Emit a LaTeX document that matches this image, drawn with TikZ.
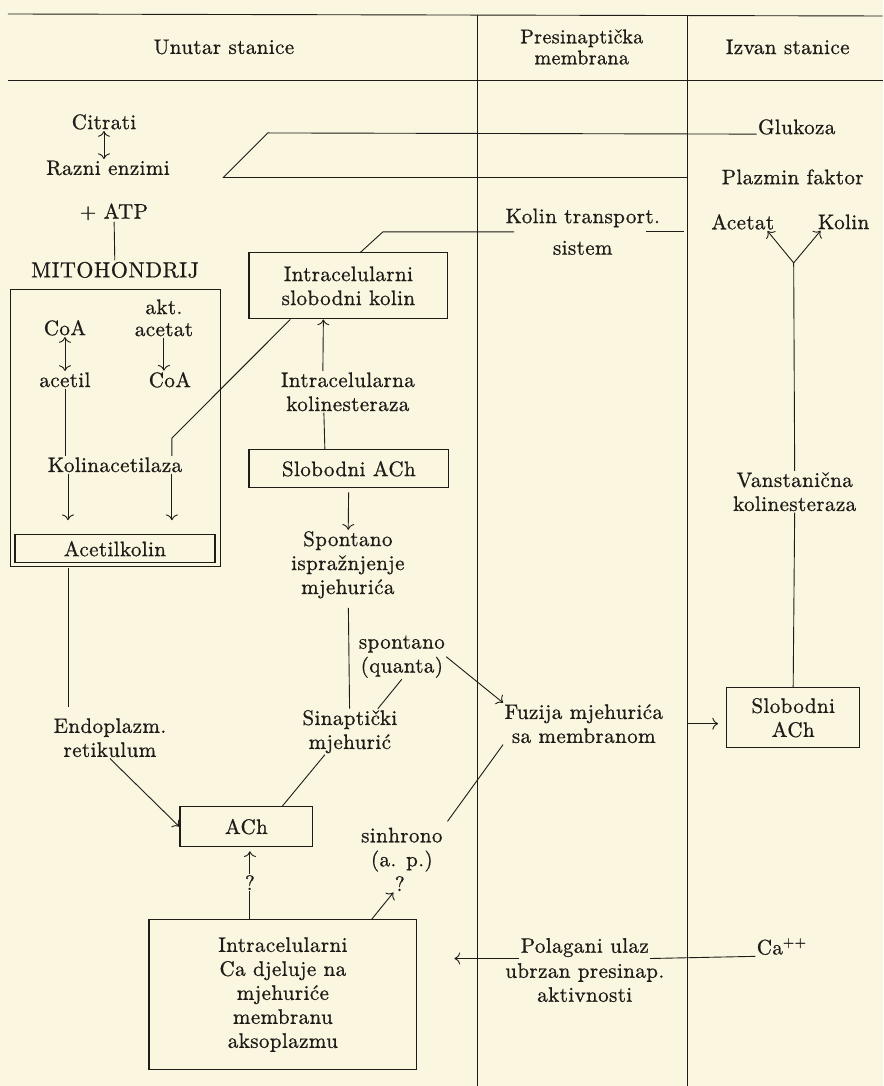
\documentclass[tikz,border=0pt]{standalone}
\usepackage{fontspec}
\setmainfont{lmroman10-regular.otf}[FakeBold=0.8,LetterSpace=2]
\usepackage{tikz}
\usetikzlibrary{positioning,arrows,arrows.meta}
\definecolor{papir}{RGB}{250,246,224}
\definecolor{tinta}{RGB}{30,27,24}

\begin{document}
\begin{tikzpicture}[x=1pt,y=-1pt,>={To[scale=1.6]},line width=0.9pt,color=tinta,
	every node/.style={align=center,inner sep=1pt,font=\fontsize{21}{24}\selectfont},
	okvir/.style={draw,line width=1.2pt,inner sep=0pt},
	veliki/.style={font=\fontsize{22}{26}\selectfont}]
	\fill[papir] (0,0) rectangle (883,1086);
	\draw (8,14) -- (883,16);
	\draw (8,80) -- (883,80);
	\draw (478,15) -- (478,1086);
	\draw (688,15) -- (688,1086);

	\node (hdr1) at (224,47) {Unutar stanice};
	\node[font=\fontsize{20}{21}\selectfont] (hdr2) at (582,47) {Presinaptička\\membrana};
	\node (hdr3) at (788,47) {Izvan stanice};

	\node (cit) at (104,122) {Citrati};
	\node (enz) at (108,168) {Razni enzimi};
	\node (atp) at (114,212) {+ ATP};
	\node[veliki] (mito) at (115,270) {MITOHONDRIJ};
	\draw (10,290) rectangle (221,567);
	\node (coa1) at (65,328) {CoA};
	\node[font=\fontsize{21}{22}\selectfont] (akt) at (164,318) {akt.\\acetat};
	\node (acetil) at (65,380) {acetil};
	\node (coa2) at (170,380) {CoA};
	\node (kac) at (115,465) {Kolinacetilaza};
	\node[okvir,minimum width=200pt,minimum height=28pt] (akol) at (115,549) {Acetilkolin};
	\node (endo) at (110,738) {Endoplazm.\\retikulum};
	\node[okvir,minimum width=133pt,minimum height=40pt] (ach) at (246.5,827) {ACh};
	\node (q1) at (250,883) {?};
	\node[okvir,minimum width=268pt,minimum height=150pt] (cabox) at (283,995) {Intracelularni\\Ca djeluje na\\mjehuriće\\membranu\\aksoplazmu};

	\node[okvir,minimum width=199pt,minimum height=66pt] (isk) at (348.5,286) {Intracelularni\\slobodni kolin};
	\node (ik) at (348,392) {Intracelularna\\kolinesteraza};
	\node[okvir,minimum width=200pt,minimum height=38pt] (sach1) at (349,469) {Slobodni ACh};
	\node (spont) at (348,565) {Spontano\\ispražnjenje\\mjehurića};
	\node (sq) at (402,657) {spontano\\(quanta)};
	\node (sin) at (350,732) {Sinaptički\\mjehurić};
	\node (sinh) at (402,850) {sinhrono\\(a. p.)};
	\node (q2) at (400,884) {?};

	\node (kt1) at (583,218) {Kolin transport.};
	\node (kt2) at (583,248) {sistem};
	\node (fuz) at (584,724) {Fuzija mjehurića\\sa membranom};
	\node (pol1) at (585,948) {Polagani ulaz};
	\node (pol2) at (585,983) {ubrzan presinap.\\aktivnosti};

	\node (glu) at (797,127) {Glukoza};
	\node (plaz) at (793,177) {Plazmin faktor};
	\node (ace) at (743,222) {Acetat};
	\node (kol) at (844,222) {Kolin};
	\node (vk) at (795,492) {Vanstanična\\kolinesteraza};
	\node[okvir,minimum width=133pt,minimum height=60pt] (sach2) at (793.5,718) {Slobodni\\ACh};
	\node (ca) at (782,947) {Ca\textsuperscript{++}};

	\coordinate (e1) at (223,178);
	\coordinate (e2) at (268,133);
	\coordinate (k1) at (360,253);
	\coordinate (k2) at (383,232);
	\coordinate (k3) at (684,232);
	\coordinate (sp) at (794,263);
	\coordinate (xl) at (68,0);
	\coordinate (xr) at (172,0);

	\path[<->]
	(cit.south) edge (cit.south |- enz.north)
	(coa1) edge (acetil);
	\path[->]
	([xshift=-25pt]ik.north) edge ([xshift=-25pt]isk.south)
	(sach1) edge [shorten <=4pt] (spont)
	(akt.south) edge (akt.south |- coa2.north)
	(kac.south -| xl) edge [shorten >=14pt] (akol.north -| xl)
	(kac.south -| xr) edge [shorten >=14pt] (akol.north -| xr)
	(endo.south) edge (ach.west)
	(sq.east) edge (fuz.north west)
	(sp) edge ([xshift=-8pt]ace.south east)
	    edge ([xshift=4pt]kol.south west)
	(fuz.east) edge [shorten <=24pt,shorten >=8pt] (fuz.east -| sach2.west)
	(pol1.south west) edge [shorten >=37pt] (pol1.south west -| cabox.east)
	(q1.north) edge [shorten >=4pt] (ach.south -| q1)
	([xshift=89pt]cabox.north) edge (q2.south west);

	\draw (atp) -- (mito);
	\draw (acetil) -- (kac.north -| acetil);
	\draw (kac.north -| xr) -- ++(0,-18) -- ([xshift=-58pt]isk.south);
	\draw[shorten <=5pt,shorten >=10pt] (akol.south -| xl) -- (endo.north -| xl);
	\draw ([xshift=-24pt]ik.south) -- ([xshift=-24pt]sach1.north);
	\draw[shorten <=8pt] (spont) -- (sin);
	\draw ([xshift=28pt]sin.north) -- (sq.south);
	\draw ([xshift=-25pt]sin.south) -- ([xshift=36pt]ach.north);
	\draw[shorten <=6pt] (sinh.north east) -- (fuz.south west);
	\draw (cabox.north -| q1) -- (q1.south);
	\draw (e1) -- (e2) -- (glu.base west);
	\draw[shorten >=33pt] (e1) -- (e1 -| plaz.west);
	\draw (k1) -- (k2) -- ([xshift=10pt]k2 -| kt1.west);
	\draw ([xshift=-15pt]k3 -| kt1.east) -- (k3);
	\draw (sp) -- (vk.north);
	\draw (vk.south) -- (sach2.north);
	\draw (ca.south west) -- (pol1.south east);
\end{tikzpicture}
\end{document}
